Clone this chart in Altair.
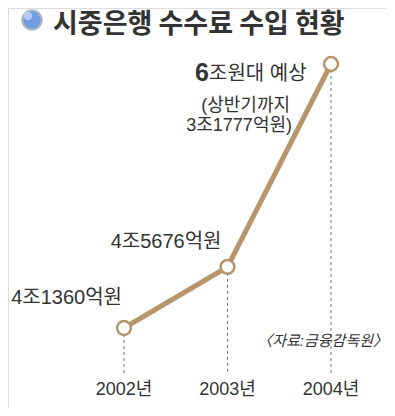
import altair as alt
import pandas as pd

years = [2002, 2003, 2004]
values = [41360, 45676, 60000]
year_labels = ["2002년", "2003년", "2004년"]
title_text = "시중은행 수수료 수입 현황"
source_text = "〈자료:금융감독원〉"

df = pd.DataFrame({"year": years, "value": values, "ylabel": year_labels})

FONT = "Liberation Sans, Noto Sans CJK KR"
TFONT = "Noto Sans CJK KR"
TAN = "#b8956a"
TXT = "#333333"

xs = alt.Scale(domain=[2002, 2004], range=[116, 323])
ys = alt.Scale(domain=[41360, 60000], range=[320, 56])
X = alt.X("year:Q", scale=xs, axis=None)
Y = alt.Y("value:Q", scale=ys, axis=None)

base = alt.Chart(df)

drops = base.mark_rule(color="#777777", strokeDash=[3, 3], strokeWidth=1).encode(
    x=X, y=Y, y2=alt.value(367)
)
line = base.mark_line(color=TAN, strokeWidth=5).encode(x=X, y=Y)
pts = base.mark_point(filled=True, fill="white", stroke=TAN, strokeWidth=2.5,
                      size=190, opacity=1, shape="circle").encode(x=X, y=Y)

yearlab = base.mark_text(font=FONT, fontSize=18, color=TXT, baseline="middle").encode(
    x=X, y=alt.value(382), text="ylabel:N"
)

def lab(idx, text, dx, dy, size=19, weight="normal", align="right"):
    d = pd.DataFrame({"year": [years[idx]], "value": [values[idx]], "t": [text]})
    return alt.Chart(d).mark_text(font=FONT, fontSize=size, fontWeight=weight, color=TXT,
                                  align=align, baseline="middle", dx=dx, dy=dy).encode(
        x=X, y=Y, text="t:N")

l1 = lab(0, "4조1360억원", -2, -30, size=20)
l2 = lab(1, "4조5676억원", -6, -25, size=20)
l3a = lab(2, "6", -136, 9, size=25, weight="bold", align="left")
l3 = lab(2, "조원대 예상", -122, 10, size=20, align="left")
l4 = lab(2, "(상반기까지", -41, 42, size=18)
l5 = lab(2, "3조1777억원)", -39, 62, size=18)

src = alt.Chart(df.head(1)).mark_text(font=FONT, fontSize=15, fontStyle="italic", color=TXT,
                                      align="right", baseline="middle").encode(
    x=alt.value(380), y=alt.value(333), text=alt.datum(source_text)
)

title = alt.Chart(df.head(1)).mark_text(font=TFONT, fontSize=27, fontWeight="bold", color=TXT,
                                        align="left", baseline="alphabetic").encode(
    x=alt.value(45), y=alt.value(25), text=alt.datum(title_text)
)
icon = alt.Chart(df.head(1)).mark_point(filled=True, fill="#6f9be0", stroke="#b0b8c4",
                                        strokeWidth=2, size=380, opacity=1, shape="circle").encode(
    x=alt.value(24), y=alt.value(12)
)
icon_hi = alt.Chart(df.head(1)).mark_point(filled=True, fill="#b9d2f5", size=70, opacity=0.9,
                                           shape="circle").encode(
    x=alt.value(20), y=alt.value(8)
)

chart = alt.layer(drops, line, pts, yearlab, l1, l2, l3a, l3, l4, l5, src, title, icon, icon_hi).properties(
    width=379, height=400, autosize=alt.AutoSizeParams(type="none"), padding=0
).configure_view(stroke=None).configure(background="white")

chart.save("out.html", embed_options={"renderer": "svg", "actions": False})
